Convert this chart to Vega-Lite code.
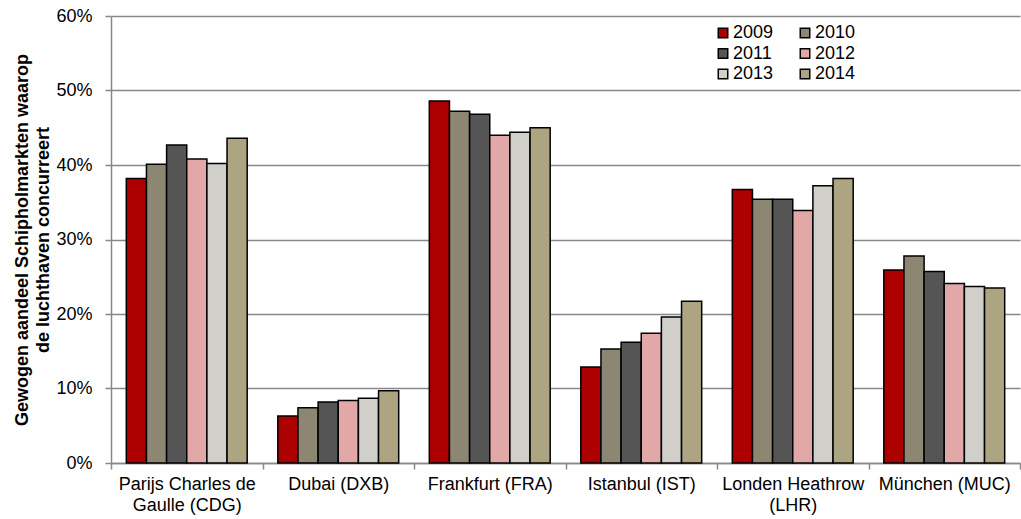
{
  "$schema": "https://vega.github.io/schema/vega-lite/v6.json",
  "width": 909,
  "height": 447,
  "autosize": "none",
  "padding": {"left": 111, "top": 16, "right": 1, "bottom": 56},
  "config": {
    "font": "Liberation Sans",
    "view": {"stroke": null},
    "axis": {"labelFont": "Liberation Sans", "titleFont": "Liberation Sans"},
    "legend": {"labelFont": "Liberation Sans"}
  },
  "data": {
    "values": [
      {"airport": "Parijs Charles de|Gaulle (CDG)", "year": "2009", "value": 0.382},
      {"airport": "Parijs Charles de|Gaulle (CDG)", "year": "2010", "value": 0.401},
      {"airport": "Parijs Charles de|Gaulle (CDG)", "year": "2011", "value": 0.427},
      {"airport": "Parijs Charles de|Gaulle (CDG)", "year": "2012", "value": 0.408},
      {"airport": "Parijs Charles de|Gaulle (CDG)", "year": "2013", "value": 0.402},
      {"airport": "Parijs Charles de|Gaulle (CDG)", "year": "2014", "value": 0.436},
      {"airport": "Dubai (DXB)", "year": "2009", "value": 0.063},
      {"airport": "Dubai (DXB)", "year": "2010", "value": 0.074},
      {"airport": "Dubai (DXB)", "year": "2011", "value": 0.082},
      {"airport": "Dubai (DXB)", "year": "2012", "value": 0.084},
      {"airport": "Dubai (DXB)", "year": "2013", "value": 0.087},
      {"airport": "Dubai (DXB)", "year": "2014", "value": 0.097},
      {"airport": "Frankfurt (FRA)", "year": "2009", "value": 0.486},
      {"airport": "Frankfurt (FRA)", "year": "2010", "value": 0.472},
      {"airport": "Frankfurt (FRA)", "year": "2011", "value": 0.468},
      {"airport": "Frankfurt (FRA)", "year": "2012", "value": 0.440},
      {"airport": "Frankfurt (FRA)", "year": "2013", "value": 0.444},
      {"airport": "Frankfurt (FRA)", "year": "2014", "value": 0.450},
      {"airport": "Istanbul (IST)", "year": "2009", "value": 0.129},
      {"airport": "Istanbul (IST)", "year": "2010", "value": 0.153},
      {"airport": "Istanbul (IST)", "year": "2011", "value": 0.162},
      {"airport": "Istanbul (IST)", "year": "2012", "value": 0.174},
      {"airport": "Istanbul (IST)", "year": "2013", "value": 0.196},
      {"airport": "Istanbul (IST)", "year": "2014", "value": 0.217},
      {"airport": "Londen Heathrow|(LHR)", "year": "2009", "value": 0.367},
      {"airport": "Londen Heathrow|(LHR)", "year": "2010", "value": 0.354},
      {"airport": "Londen Heathrow|(LHR)", "year": "2011", "value": 0.354},
      {"airport": "Londen Heathrow|(LHR)", "year": "2012", "value": 0.339},
      {"airport": "Londen Heathrow|(LHR)", "year": "2013", "value": 0.372},
      {"airport": "Londen Heathrow|(LHR)", "year": "2014", "value": 0.382},
      {"airport": "München (MUC)", "year": "2009", "value": 0.259},
      {"airport": "München (MUC)", "year": "2010", "value": 0.278},
      {"airport": "München (MUC)", "year": "2011", "value": 0.257},
      {"airport": "München (MUC)", "year": "2012", "value": 0.241},
      {"airport": "München (MUC)", "year": "2013", "value": 0.237},
      {"airport": "München (MUC)", "year": "2014", "value": 0.235}
    ]
  },
  "mark": {"type": "bar", "stroke": "black", "strokeWidth": 1.5},
  "encoding": {
    "x": {
      "field": "airport",
      "type": "nominal",
      "sort": null,
      "scale": {"paddingInner": 0, "paddingOuter": 0},
      "axis": {
        "title": null,
        "labelAngle": 0,
        "labelExpr": "split(datum.label, '|')",
        "labelFontSize": 18,
        "labelColor": "#000000",
        "labelPadding": 6,
        "labelLineHeight": 21,
        "tickBand": "extent",
        "tickColor": "#888888",
        "tickWidth": 1.5,
        "tickSize": 6,
        "domainColor": "#888888",
        "domainWidth": 1.5,
        "grid": false
      }
    },
    "xOffset": {
      "field": "year",
      "type": "nominal",
      "scale": {"paddingInner": 0, "paddingOuter": 0.76}
    },
    "y": {
      "field": "value",
      "type": "quantitative",
      "scale": {"domain": [0, 0.6], "nice": false},
      "axis": {
        "title": ["Gewogen aandeel Schipholmarkten waarop", "de luchthaven concurreert"],
        "titleFontSize": 18,
        "titleFontWeight": "bold",
        "titleColor": "#000000",
        "titlePadding": 3,
        "titleLineHeight": 21,
        "format": ".0%",
        "values": [0, 0.1, 0.2, 0.3, 0.4, 0.5, 0.6],
        "labelFontSize": 18,
        "labelColor": "#000000",
        "labelPadding": 13,
        "tickColor": "#888888",
        "tickWidth": 1.5,
        "tickSize": 6,
        "domainColor": "#888888",
        "domainWidth": 1.5,
        "gridColor": "#888888",
        "gridWidth": 1.5
      }
    },
    "color": {
      "field": "year",
      "type": "nominal",
      "scale": {
        "domain": ["2009", "2010", "2011", "2012", "2013", "2014"],
        "range": ["#AC0000", "#8C8672", "#555555", "#E2A8A8", "#D0CFCA", "#ADA582"]
      },
      "legend": {
        "title": null,
        "orient": "none",
        "legendX": 603,
        "legendY": 8,
        "direction": "horizontal",
        "columns": 2,
        "columnPadding": 22,
        "rowPadding": 2.5,
        "padding": 0,
        "symbolType": "square",
        "symbolSize": 90,
        "symbolStrokeColor": "black",
        "symbolStrokeWidth": 1.5,
        "symbolOpacity": 1,
        "labelFontSize": 18,
        "labelColor": "#000000",
        "labelOffset": 1
      }
    }
  }
}
